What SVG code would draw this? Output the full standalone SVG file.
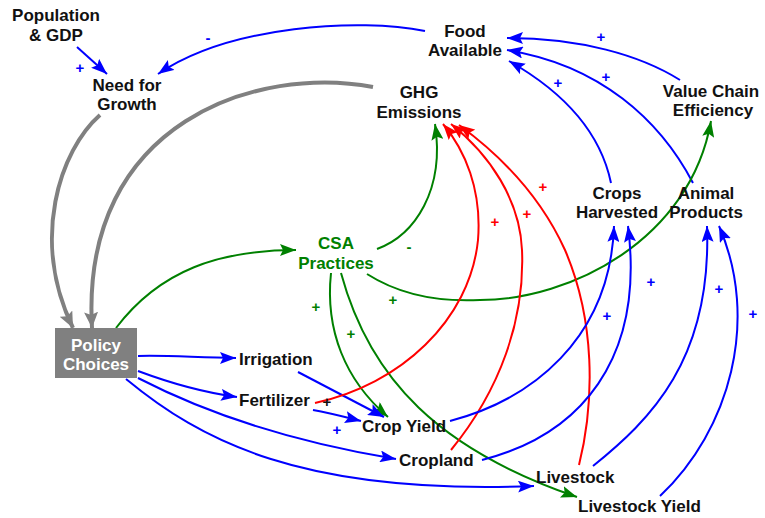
<svg xmlns="http://www.w3.org/2000/svg" width="765" height="518" viewBox="0 0 765 518">
<defs>
<style>
.lbl{font-family:"Liberation Sans",Arial,sans-serif;font-weight:bold;font-size:17px;fill:#111}
.c{text-anchor:middle}
.sign{font-family:"Liberation Sans",Arial,sans-serif;font-weight:bold;font-size:15px;text-anchor:middle}
.b{fill:none;stroke:#0000ff;stroke-width:2}
.r{fill:none;stroke:#ff0000;stroke-width:2}
.g{fill:none;stroke:#008000;stroke-width:2}
.gr{fill:none;stroke:#808080;stroke-width:4}
</style>
<marker id="ab" markerWidth="16" markerHeight="12" refX="16" refY="6" orient="auto" markerUnits="userSpaceOnUse"><path d="M0,0 L16,6 L0,12 L3,6 z" fill="#0000ff"/></marker>
<marker id="ar" markerWidth="16" markerHeight="12" refX="16" refY="6" orient="auto" markerUnits="userSpaceOnUse"><path d="M0,0 L16,6 L0,12 L3,6 z" fill="#ff0000"/></marker>
<marker id="ag" markerWidth="16" markerHeight="12" refX="16" refY="6" orient="auto" markerUnits="userSpaceOnUse"><path d="M0,0 L16,6 L0,12 L3,6 z" fill="#008000"/></marker>
<marker id="agr" markerWidth="16" markerHeight="14" refX="16" refY="7" orient="auto" markerUnits="userSpaceOnUse"><path d="M0,0 L16,7 L0,14 L3,7 z" fill="#808080"/></marker>
</defs>
<rect width="765" height="518" fill="#ffffff"/>

<g id="connectors">
<!-- gray -->
<path class="gr" d="M100,115 C60,150 30,240 73,328" marker-end="url(#agr)"/>
<path class="gr" d="M373,87 C260,65 80,120 92,328" marker-end="url(#agr)"/>
<!-- blue top -->
<path class="b" d="M77,47 L107,74" marker-end="url(#ab)"/>
<path class="b" d="M425,31 C360,18 230,25 158,74" marker-end="url(#ab)"/>
<path class="b" d="M680,80 C640,55 580,38 507,38" marker-end="url(#ab)"/>
<path class="b" d="M693,183 C660,120 600,65 507,50" marker-end="url(#ab)"/>
<path class="b" d="M611,183 C600,130 560,90 509,61" marker-end="url(#ab)"/>
<!-- green -->
<path class="g" d="M116,328 C160,270 220,250 296,250" marker-end="url(#ag)"/>
<path class="g" d="M377,249 C415,235 445,190 435,124" marker-end="url(#ag)"/>
<path class="g" d="M367,274 C400,295 440,302 480,300 C570,300 690,240 711,121" marker-end="url(#ag)"/>
<path class="g" d="M331,273 C325,330 345,380 388,417" marker-end="url(#ag)"/>
<path class="g" d="M341,273 C370,380 440,450 577,497" marker-end="url(#ag)"/>
<!-- policy outputs -->
<path class="b" d="M138,356 C170,355 200,358 236,358" marker-end="url(#ab)"/>
<path class="b" d="M138,371 C170,383 200,392 237,397" marker-end="url(#ab)"/>
<path class="b" d="M138,378 C200,410 280,440 396,459" marker-end="url(#ab)"/>
<path class="b" d="M126,379 C200,440 300,495 534,486" marker-end="url(#ab)"/>
<path class="b" d="M298,372 L384,417" marker-end="url(#ab)"/>
<path class="b" d="M313,410 C330,413 345,417 361,421" marker-end="url(#ab)"/>
<!-- red -->
<path class="r" d="M315,403 C400,385 470,320 478,240 C482,190 465,150 443,124" marker-end="url(#ar)"/>
<path class="r" d="M451,450 C500,390 525,320 522,250 C520,200 490,155 451,124" marker-end="url(#ar)"/>
<path class="r" d="M579,465 C595,400 595,320 565,250 C540,195 500,155 459,125" marker-end="url(#ar)"/>
<!-- blue lower -->
<path class="b" d="M450,421 C530,400 610,340 614,226" marker-end="url(#ab)"/>
<path class="b" d="M482,460 C580,435 645,360 628,226" marker-end="url(#ab)"/>
<path class="b" d="M593,466 C650,420 712,360 707,226" marker-end="url(#ab)"/>
<path class="b" d="M660,496 C730,430 760,320 719,226" marker-end="url(#ab)"/>
</g>

<g id="signs">
<text class="sign" x="80" y="73" fill="#0000ff">+</text>
<text class="sign" x="208" y="43" fill="#0000ff">-</text>
<text class="sign" x="601" y="42" fill="#0000ff">+</text>
<text class="sign" x="606" y="82" fill="#0000ff">+</text>
<text class="sign" x="558" y="88" fill="#0000ff">+</text>
<text class="sign" x="409" y="252" fill="#008000">-</text>
<text class="sign" x="393" y="305" fill="#008000">+</text>
<text class="sign" x="316" y="312" fill="#008000">+</text>
<text class="sign" x="351" y="339" fill="#008000">+</text>
<text class="sign" x="495" y="227" fill="#ff0000">+</text>
<text class="sign" x="527" y="219" fill="#ff0000">+</text>
<text class="sign" x="543" y="192" fill="#ff0000">+</text>
<text class="sign" x="327" y="407" fill="#111">+</text>
<text class="sign" x="337" y="435" fill="#0000ff">+</text>
<text class="sign" x="607" y="321" fill="#0000ff">+</text>
<text class="sign" x="651" y="287" fill="#0000ff">+</text>
<text class="sign" x="719" y="294" fill="#0000ff">+</text>
<text class="sign" x="753" y="319" fill="#0000ff">+</text>
</g>

<g id="population"><text class="lbl c" x="56" y="21">Population</text><text class="lbl c" x="56" y="41">&amp; GDP</text></g>
<g id="need"><text class="lbl c" x="127" y="91">Need for</text><text class="lbl c" x="127" y="110">Growth</text></g>
<g id="food"><text class="lbl c" x="465" y="37">Food</text><text class="lbl c" x="465" y="56">Available</text></g>
<g id="ghg"><text class="lbl c" x="419" y="98">GHG</text><text class="lbl c" x="419" y="118">Emissions</text></g>
<g id="valuechain"><text class="lbl c" x="711" y="97">Value Chain</text><text class="lbl c" x="713" y="116">Efficiency</text></g>
<g id="csa"><text class="lbl c" x="336" y="249" style="fill:#008000">CSA</text><text class="lbl c" x="336" y="269" style="fill:#008000">Practices</text></g>
<g id="crops"><text class="lbl c" x="617" y="199">Crops</text><text class="lbl c" x="617" y="218">Harvested</text></g>
<g id="animal"><text class="lbl c" x="706" y="199">Animal</text><text class="lbl c" x="706" y="218">Products</text></g>
<g id="policy"><rect x="55" y="328" width="82" height="50" fill="#808080"/><text class="lbl c" x="96" y="351" style="fill:#ffffff">Policy</text><text class="lbl c" x="96" y="370" style="fill:#ffffff">Choices</text></g>
<g id="irrigation"><text class="lbl" x="239" y="365">Irrigation</text></g>
<g id="fertilizer"><text class="lbl" x="239" y="406">Fertilizer</text></g>
<g id="cropyield"><text class="lbl" x="362" y="432">Crop Yield</text></g>
<g id="cropland"><text class="lbl" x="399" y="466">Cropland</text></g>
<g id="livestock"><text class="lbl" x="536" y="483">Livestock</text></g>
<g id="livestockyield"><text class="lbl" x="578" y="512">Livestock Yield</text></g>
</svg>
